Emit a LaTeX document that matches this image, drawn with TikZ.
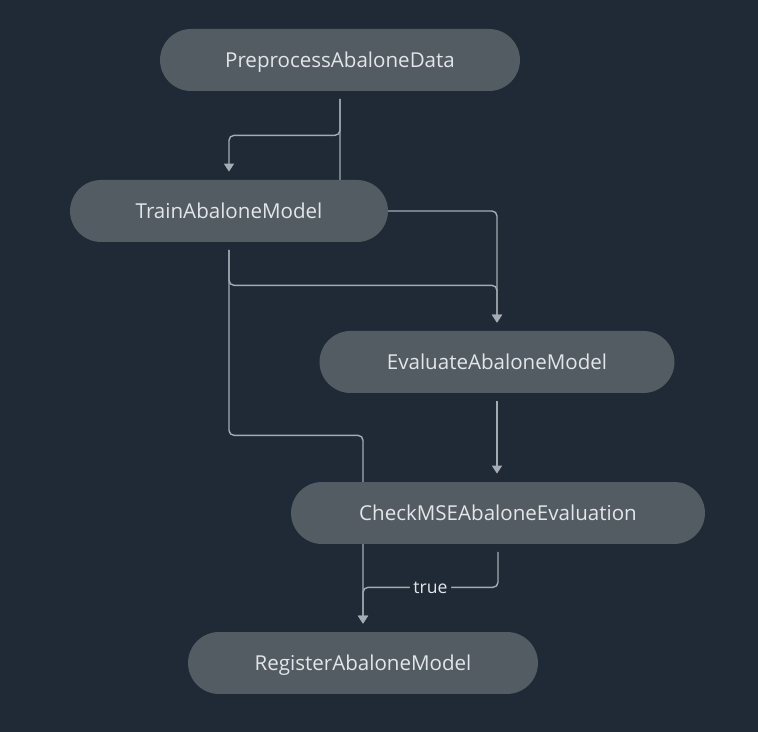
\documentclass[tikz,border=0pt]{standalone}
\usepackage{fontspec}
\setmainfont{Open Sans}
\usetikzlibrary{arrows.meta, backgrounds, positioning}

\definecolor{bgnavy}{HTML}{1F2A36}
\definecolor{stagegray}{HTML}{535B63}
\definecolor{linegray}{HTML}{A4ABB2}
\definecolor{textgray}{HTML}{E2E6EA}

\begin{document}
\begin{tikzpicture}[x=0.02cm, y=-0.02cm,
    >={Triangle[width=0.2cm, length=0.16cm]},
    stage/.style={rectangle, rounded corners=0.62cm, fill=stagegray, text=textgray,
        minimum height=1.24cm, inner sep=0pt, text depth=0pt,
        font=\fontsize{11.7}{14}\selectfont},
    flow/.style={->, draw=linegray, line width=0.8pt, rounded corners=0.1cm,
        shorten <=0.15cm, shorten >=0.16cm},
    flowlabel/.style={fill=bgnavy, text=textgray, inner sep=2pt, font=\fontsize{10}{12}\selectfont}]

    % Frame
    \useasboundingbox (0,0) rectangle (758,732);

    % Pipeline steps
    \node[stage, minimum width=7.2cm] (pre) at (340,60) {PreprocessAbaloneData};
    \node[stage, minimum width=6.36cm] (train) at (229,211) {TrainAbaloneModel};
    \node[stage, minimum width=7.1cm] (eval) at (497,362) {EvaluateAbaloneModel};
    \node[stage, minimum width=8.28cm] (check) at (498,513) {CheckMSEAbaloneEvaluation};
    \node[stage, minimum width=7.0cm] (reg) at (363,663) {RegisterAbaloneModel};

    \begin{scope}[on background layer]
        \fill[bgnavy] (0,0) rectangle (758,732);

        % Edges from preprocessing
        \draw[flow] (pre.south) -- ++(0,44) -| (train.north);
        \draw[flow] (pre.south) -- (pre.south |- train.east) -| (eval.north);

        % Edges from training
        \draw[flow] (train.south) -- ++(0,43) -| (eval.north);
        \draw[flow] (train.south) -- ++(0,193) -| (reg.north);

        % Evaluation and condition
        \draw[flow] (eval.south) -- (eval.south |- check.north);
        \draw[flow] (check.south) -- ++(0,43) -| node[pos=0.25, flowlabel] {true} (reg.north);
    \end{scope}
\end{tikzpicture}
\end{document}
